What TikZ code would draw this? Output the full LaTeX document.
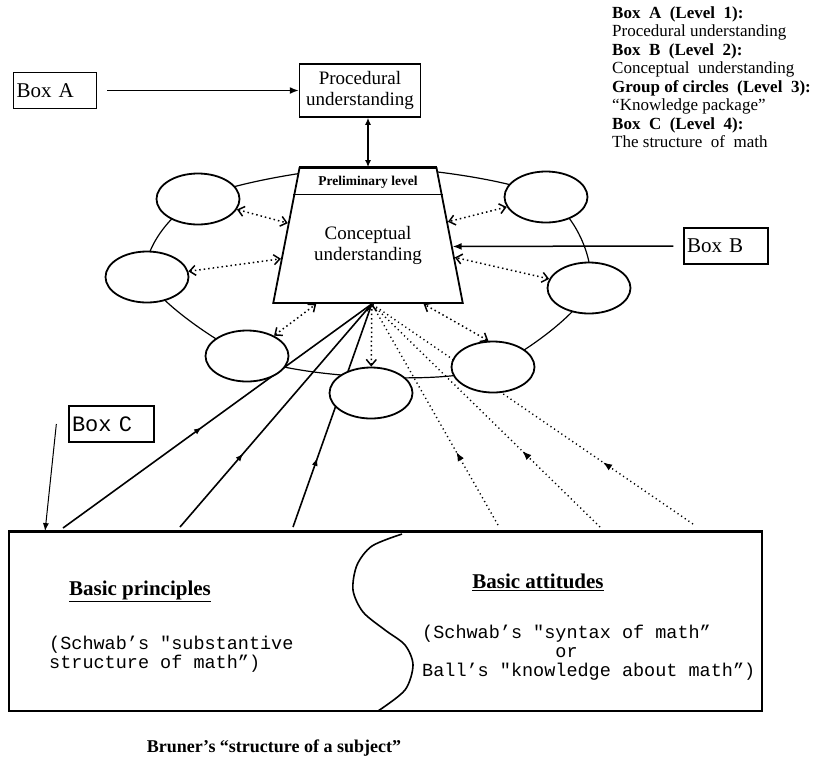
\documentclass[tikz,border=0pt]{standalone}
\usepackage{fontspec}
\setmainfont{Liberation Serif}
\setmonofont{Liberation Mono}
\usetikzlibrary{shapes.geometric,arrows.meta,decorations.markings,calc}

\begin{document}
\begin{tikzpicture}[x=1pt, y=-1pt]
	\tikzstyle{tag} = [draw, rectangle, line width=1.3pt, inner xsep=3pt, inner ysep=0pt, minimum height=36pt, align=left, font={\fontsize{21}{23}\selectfont}];
	\tikzstyle{boxed} = [draw, rectangle, line width=1.5pt, align=center, inner sep=0pt, font={\fontsize{19}{21}\selectfont}];
	\tikzstyle{blob} = [draw, ellipse, line width=1.8pt, fill=white, minimum width=83pt, minimum height=51pt, inner sep=0pt];
	\tikzstyle{twoway} = [{Straight Barb[length=6pt,width=10pt]}-{Straight Barb[length=6pt,width=10pt]}, line width=1.5pt, dash pattern=on 1.5pt off 3pt];
	\tikzstyle{push} = [-{Latex[length=9pt,width=7pt]}, line width=1.5pt];
	\tikzstyle{fan} = [line width=1.6pt, postaction={decorate}];
	\tikzstyle{dotfan} = [line width=1.4pt, dash pattern=on 1.2pt off 3.2pt, postaction={decorate}];
	\tikzstyle{info} = [align=left, anchor=north west, inner sep=0pt, font={\fontsize{17}{18.5}\selectfont}];
	\tikzstyle{mono} = [align=left, anchor=west, inner sep=0pt, font={\ttfamily\fontsize{18.5}{19}\selectfont}];
	\tikzstyle{head} = [inner sep=0pt, font={\bfseries\fontsize{21}{23}\selectfont}];

	\useasboundingbox (0,0) rectangle (834,769);

	% ring of the knowledge package
	\draw[line width=1.2pt] plot[smooth cycle] coordinates {(368,167) (198,199) (147,277) (247,356) (371,377) (493,367) (589,288) (546,197)};

	\node[trapezium, draw, line width=1.8pt, fill=white, trapezium angle=79, inner xsep=68.5pt, inner ysep=67.5pt] (tz) at (368,235.5) {};
	\draw[line width=2.4pt] (tz.top left corner) -- (tz.top right corner);
	\draw[line width=1.6pt] ($(tz.top left corner)!0.2!(tz.bottom left corner)$) -- ($(tz.top right corner)!0.2!(tz.bottom right corner)$);
	\node[font={\bfseries\fontsize{13.5}{15}\selectfont}] (prelim) at (368,182) {Preliminary level};
	\node[align=center, font={\fontsize{19}{21}\selectfont}] (concept) at (368,245) {Conceptual\\understanding};

	\node[boxed, minimum width=121pt, minimum height=53pt] (proc) at (360,90.5) {Procedural\\understanding};
	\node[tag, text width=77pt] (boxa) at (55,90.5) {Box A};
	\node[tag, text width=78pt] (boxb) at (726,246) {Box B};
	\node[tag, text width=79pt, font={\ttfamily\fontsize{22}{24}\selectfont}] (boxc) at (111.5,424) {Box C};

	\node[draw, line width=1.8pt, minimum width=753pt, minimum height=179pt, inner sep=0pt] (base) at (385.5,621.5) {};
	\draw[line width=2.8pt] (base.north west) -- (base.north east);
	\draw[line width=1.6pt] plot[smooth] coordinates {(402,534) (372,546) (357,565) (353,590) (363,612) (385,630) (405,645) (413,665) (405,690) (378,711)};

	\coordinate (apex) at ($(tz.bottom left corner)!0.52!(tz.bottom right corner)$);
	\foreach \x/\h/\where in {63/528/0.45, 180/527/0.33, 293/527/0.31} {
		\coordinate (foot\x) at (\x,\h);
		\draw[fan, decoration={markings, mark=at position \where with {\arrow{Latex[length=8pt,width=6pt]}}}] (foot\x) -- (apex);
	}
	\foreach \x/\h/\where in {498/525/0.33, 600/527/0.34, 693/524/0.28} {
		\coordinate (foot\x) at (\x,\h);
		\draw[dotfan, decoration={markings, mark=at position \where with {\arrow{Latex[length=9pt,width=7pt]}}}] (foot\x) -- (apex);
	}

	\foreach \pos [count=\i] in {(198,199), (147,277), (247,356), (371,393), (493,367), (589,288), (546,197)}
		\node[blob] (e\i) at \pos {};

	\draw[twoway] (e1) -- ($(tz.top left corner)!0.41!(tz.bottom left corner)$);
	\draw[twoway] (e2) -- ($(tz.top left corner)!0.67!(tz.bottom left corner)$);
	\draw[twoway] (e3) -- ($(tz.bottom left corner)!0.23!(tz.bottom right corner)$);
	\draw[twoway] (e4) -- (apex);
	\draw[twoway] (e5.100) -- ($(tz.bottom left corner)!0.79!(tz.bottom right corner)$);
	\draw[twoway] (e6) -- ($(tz.top right corner)!0.66!(tz.bottom right corner)$);
	\draw[twoway] (e7) -- ($(tz.top right corner)!0.4!(tz.bottom right corner)$);

	\draw[push] ([xshift=10pt]boxa.east) -- (proc.west);
	\draw[push] ([xshift=-10pt]boxb.west) -- ($(tz.top right corner)!0.58!(tz.bottom right corner)$);
	\draw[{Latex[length=7pt,width=6pt]}-{Latex[length=7pt,width=6pt]}, line width=1.3pt] (proc.south -| tz.north) -- (tz.north);
	\coordinate (cfoot) at ($(base.north west)!0.049!(base.north east)$);
	\draw[-{Latex[length=8pt,width=6pt]}, line width=1pt] ([xshift=-12pt]boxc.west) -- (cfoot);

	\node[head] (principles) at (140,591) {\underline{Basic principles}};
	\node[head] (attitudes) at (538,582) {\underline{Basic attitudes}};
	\node[mono] (substantive) at (49,654) {(Schwab’s "substantive\\structure of math”)};
	\node[mono] (syntax) at (422,652.5) {(Schwab’s "syntax of math”\\\phantom{xxxxxxxxxxxx}or\\Ball’s "knowledge about math”)};
	\node[font={\bfseries\fontsize{18}{20}\selectfont}] (bruner) at (274,748) {Bruner’s “structure of a subject”};

	\node[info] (legend) at (612,6) {\textbf{Box~ A~ (Level~ 1):}\\Procedural understanding\\\textbf{Box~ B~ (Level~ 2):}\\Conceptual~ understanding\\\textbf{Group of circles~ (Level~ 3):}\\“Knowledge package”\\\textbf{Box~ C~ (Level~ 4):}\\The structure~ of~ math};
\end{tikzpicture}
\end{document}
